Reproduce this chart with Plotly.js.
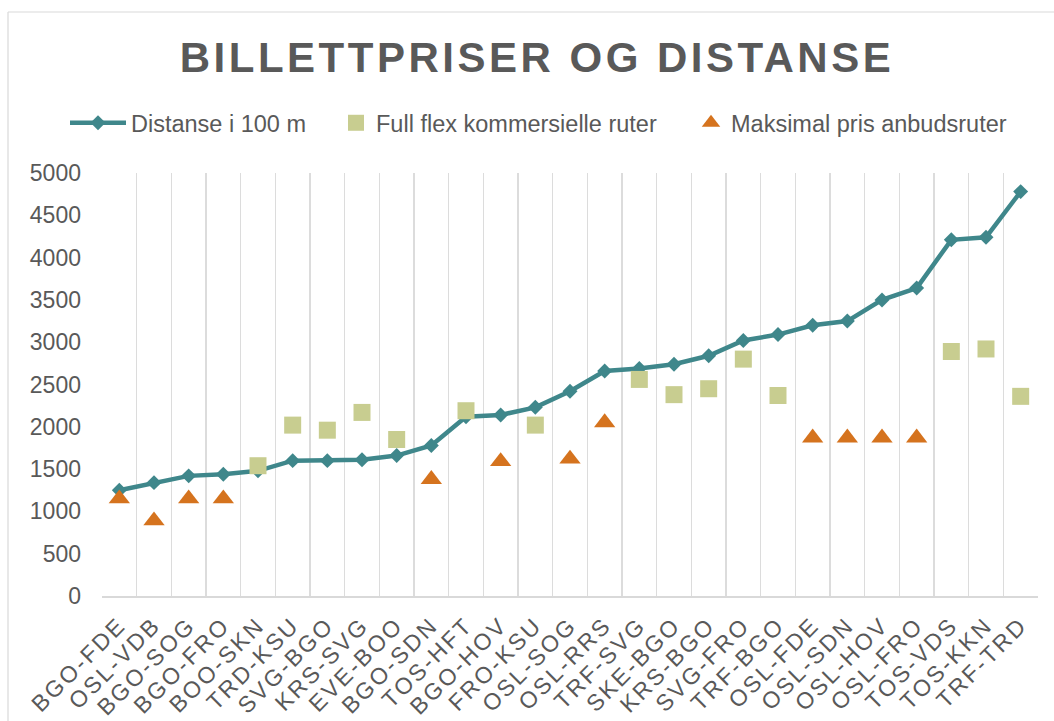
<!DOCTYPE html>
<html>
<head>
<meta charset="utf-8">
<script src="https://cdn.plot.ly/plotly-3.0.1.min.js"></script>
<style>
  html, body { margin: 0; padding: 0; background: #ffffff; }
  #chart { width: 1054px; height: 721px; }
  .gtitle { letter-spacing: 3.5px; }
  .xtick text { letter-spacing: 2.5px; }
</style>
</head>
<body>
<div id="chart"></div>
<script>
// ---- Data ----
const routes = ["BGO-FDE","OSL-VDB","BGO-SOG","BGO-FRO","BOO-SKN","TRD-KSU","SVG-BGO","KRS-SVG","EVE-BOO","BGO-SDN",
  "TOS-HFT","BGO-HOV","FRO-KSU","OSL-SOG","OSL-RRS","TRF-SVG","SKE-BGO","KRS-BGO","SVG-FRO","TRF-BGO",
  "OSL-FDE","OSL-SDN","OSL-HOV","OSL-FRO","TOS-VDS","TOS-KKN","TRF-TRD"];
const distance = [1250,1340,1420,1440,1480,1600,1600,1610,1660,1780,
  2120,2140,2230,2420,2660,2690,2740,2840,3020,3090,
  3200,3250,3500,3640,4210,4240,4780];
const fullFlex = [null,null,null,null,1540,2020,1960,2170,1850,null,
  2190,null,2020,null,null,2560,2380,2450,2800,2370,
  null,null,null,null,2890,2920,2360];
const maxPris = [1150,890,1150,1150,null,null,null,null,null,1380,
  null,1590,null,1620,2050,null,null,null,null,null,
  1870,1870,1870,1870,null,null,null];
const seriesNames = ["Distanse i 100 m","Full flex kommersielle ruter","Maksimal pris anbudsruter"];
const yTicks = [0,500,1000,1500,2000,2500,3000,3500,4000,4500,5000];

// ---- Layout geometry ----
const W = 1054, H = 721;
const M = {l: 102, r: 16, t: 173, b: 125};
const pw = W - M.l - M.r, ph = H - M.t - M.b;
const px2x = p => (p - M.l) / pw;
const px2y = p => (H - M.b - p) / ph;

const grey = "#595959";
const font = "Liberation Sans, Arial, sans-serif";

const traces = [
  {x: routes, y: distance, name: seriesNames[0], type: "scatter", mode: "lines+markers",
   line: {color: "#3F878B", width: 4.5},
   marker: {symbol: "diamond", size: 11.5, color: "#3F878B"}, legend: "legend"},
  {x: routes, y: fullFlex, name: seriesNames[1], type: "scatter", mode: "markers",
   marker: {symbol: "square", size: 17, color: "#C8CD90"}, legend: "legend2"},
  {x: routes, y: maxPris, name: seriesNames[2], type: "scatter", mode: "markers",
   marker: {symbol: "triangle-up", size: 18.5, color: "#D5731E"}, legend: "legend3"}
];

const legendBase = {orientation: "h", xanchor: "left", yanchor: "middle",
  bgcolor: "rgba(0,0,0,0)", borderwidth: 0, font: {family: font, size: 23.5, color: grey}};

const layout = {
  width: W, height: H,
  margin: M,
  paper_bgcolor: "#ffffff", plot_bgcolor: "#ffffff",
  showlegend: true,
  title: {text: "BILLETTPRISER OG DISTANSE", xref: "container", yref: "container",
    x: 537 / W, y: 1 - 57 / H, xanchor: "center", yanchor: "middle",
    font: {family: font, size: 42, color: grey, weight: 700}},
  legend: Object.assign({}, legendBase, {x: px2x(65), y: px2y(123), itemwidth: 56}),
  legend2: Object.assign({}, legendBase, {x: px2x(336), y: px2y(123)}),
  legend3: Object.assign({}, legendBase, {x: px2x(691), y: px2y(123)}),
  xaxis: {type: "category", tickson: "boundaries", showgrid: true, gridcolor: "#DCDCDC", gridwidth: 1.3,
    showline: true, linecolor: "#D9D9D9", linewidth: 1.5, ticks: "", tickangle: -45,
    ticklabelstandoff: 5,
    tickfont: {family: font, size: 23, color: grey}, automargin: false, fixedrange: true,
    range: [-0.5, routes.length - 0.5]},
  yaxis: {range: [0, 5000], tickvals: yTicks, ticktext: yTicks.map(String), showgrid: false,
    zeroline: false, showline: false, ticks: "", ticklabelstandoff: 20,
    tickfont: {family: font, size: 23, color: grey}, automargin: false, fixedrange: true},
  shapes: [
    {type: "line", xref: "paper", yref: "paper", x0: px2x(8), x1: px2x(8), y0: px2y(12), y1: px2y(725),
     line: {color: "#D9D9D9", width: 1.2}},
    {type: "line", xref: "paper", yref: "paper", x0: px2x(8), x1: px2x(1060), y0: px2y(12), y1: px2y(12),
     line: {color: "#D9D9D9", width: 1.2}}
  ]
};

Plotly.newPlot("chart", traces, layout, {displayModeBar: false, staticPlot: true});
</script>
</body>
</html>
